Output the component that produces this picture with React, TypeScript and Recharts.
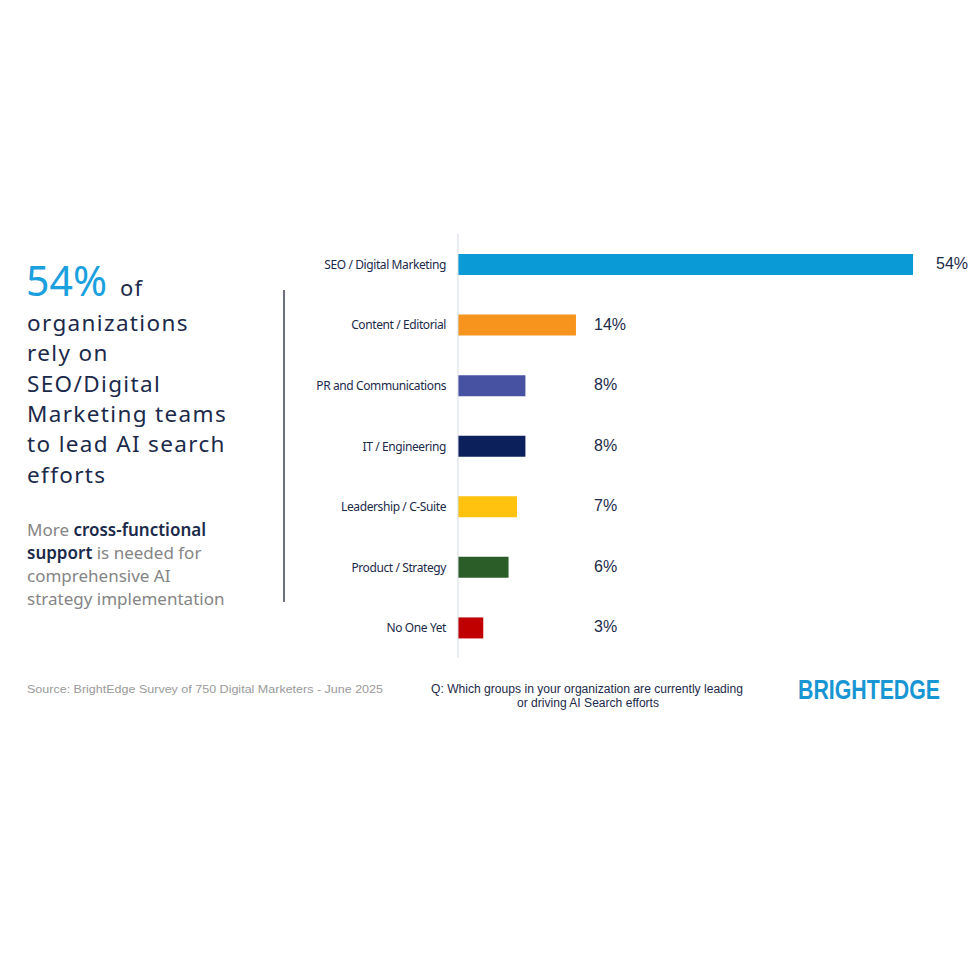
import React from "react";
import { BarChart, Bar, XAxis, YAxis, Cell, LabelList } from "recharts";

const categories = [
  "SEO / Digital Marketing",
  "Content / Editorial",
  "PR and Communications",
  "IT / Engineering",
  "Leadership / C-Suite",
  "Product / Strategy",
  "No One Yet",
];
const values = [54, 14, 8, 8, 7, 6, 3];
const barColors = ["#0a9bd7", "#f7941d", "#4852a3", "#0c205c", "#ffc20e", "#2a5d27", "#c00000"];

const headingLines = ["organizations", "rely on", "SEO/Digital", "Marketing teams", "to lead AI search", "efforts"];

const data = categories.map((name, i) => ({ name, value: values[i], color: barColors[i] }));

const NAVY = "#1b2a4a";
const GRAY = "#858585";
const CYAN = "#1aa0de";

const ValueLabel = (props: any) => {
  const { x, y, width, height, value } = props;
  const lx = width > 200 ? x + width + 23 : x + 136;
  return (
    <text
      x={lx}
      y={y + height / 2 - 1}
      dominantBaseline="central"
      fontSize={16}
      fontFamily="'Liberation Sans', Arial, sans-serif"
      fill={NAVY}
    >
      {value}%
    </text>
  );
};

const CategoryTick = (props: any) => {
  const { x, y, payload } = props;
  return (
    <text
      x={x}
      y={y}
      textAnchor="end"
      dominantBaseline="central"
      fontSize={12}
      letterSpacing={-0.4}
      fontFamily="'Noto Sans', sans-serif"
      fill={NAVY}
    >
      {payload.value}
    </text>
  );
};

export default function App() {
  const headFont = "'Noto Sans', sans-serif";
  return (
    <div style={{ position: "absolute", left: 0, top: 0, width: 980, height: 980, background: "#fff" }}>
      <svg width={980} height={980} style={{ position: "absolute", left: 0, top: 0 }}>
        <text x={26} y={296} fontFamily={headFont} fill={NAVY}>
          <tspan fontSize={41} fill={CYAN}>54%</tspan>
          <tspan fontSize={22} dx={13} letterSpacing={1.2}>of</tspan>
        </text>
        {headingLines.map((t, i) => (
          <text key={t} x={27} y={331 + i * 30.3} fontFamily={headFont} fontSize={22.5} letterSpacing={1.35} fill={NAVY}>
            {t}
          </text>
        ))}
        <text fontFamily={headFont} fontSize={17} fill={GRAY}>
          <tspan x={27} y={536}>More </tspan>
          <tspan fill={NAVY} fontWeight={600}>cross-functional</tspan>
          <tspan x={27} y={559} fill={NAVY} fontWeight={600}>support</tspan>
          <tspan> is needed for</tspan>
          <tspan x={27} y={582}>comprehensive AI</tspan>
          <tspan x={27} y={605}>strategy implementation</tspan>
        </text>
        <line x1={284} y1={290} x2={284} y2={602} stroke="#6e7080" strokeWidth={2} />
        <text x={27} y={693} fontFamily="'Liberation Sans', Arial, sans-serif" fontSize={11.5} fill="#9a9a9a" textLength={356} lengthAdjust="spacingAndGlyphs">
          Source: BrightEdge Survey of 750 Digital Marketers - June 2025
        </text>
        <text x={587} y={693} textAnchor="middle" fontFamily="'Liberation Sans Narrow', 'Liberation Sans', sans-serif" fontSize={12} fill={NAVY} textLength={312} lengthAdjust="spacingAndGlyphs">
          Q: Which groups in your organization are currently leading
        </text>
        <text x={588} y={707} textAnchor="middle" fontFamily="'Liberation Sans Narrow', 'Liberation Sans', sans-serif" fontSize={12} fill={NAVY} textLength={142} lengthAdjust="spacingAndGlyphs">
          or driving AI Search efforts
        </text>
        <text x={798} y={699} fontFamily="'Liberation Sans Narrow', 'Liberation Sans', sans-serif" fontWeight={700} fontSize={27} fill="#1796d3" textLength={142} lengthAdjust="spacingAndGlyphs">
          BRIGHTEDGE
        </text>
      </svg>
      <div style={{ position: "absolute", left: 300, top: 234 }}>
        <BarChart width={680} height={424} layout="vertical" data={data} margin={{ top: 0, right: 67, left: 0, bottom: 0 }}>
          <XAxis type="number" domain={[0, 54]} hide />
          <YAxis
            type="category"
            dataKey="name"
            width={158}
            axisLine={{ stroke: "#d5dbe5" }}
            tickLine={false}
            tickSize={0}
            tickMargin={12}
            interval={0}
            tick={<CategoryTick />}
          />
          <Bar dataKey="value" barSize={21} isAnimationActive={false}>
            {data.map((d) => (
              <Cell key={d.name} fill={d.color} />
            ))}
            <LabelList dataKey="value" content={<ValueLabel />} />
          </Bar>
        </BarChart>
      </div>
    </div>
  );
}
